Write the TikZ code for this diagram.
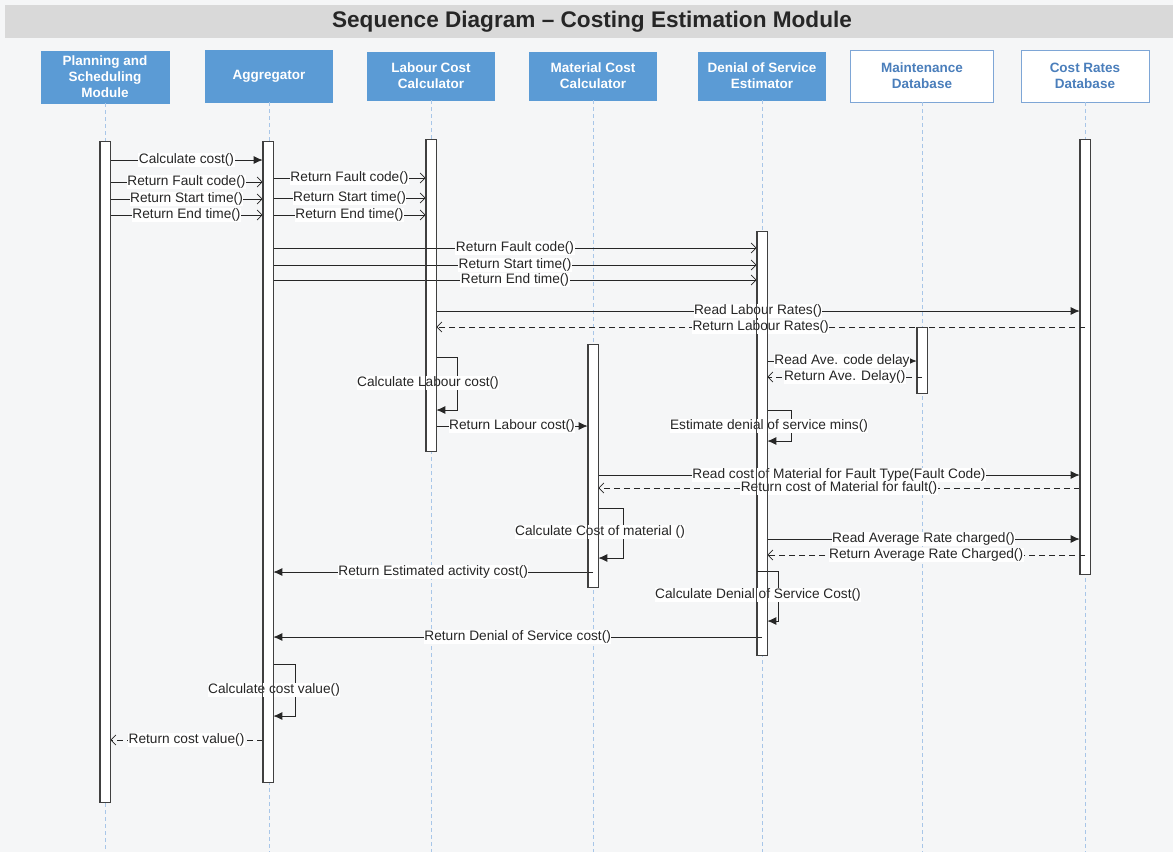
\documentclass[tikz,border=0pt]{standalone}
\usepackage{fontspec}
\setmainfont{Liberation Sans}
\usetikzlibrary{arrows.meta}
\definecolor{bgc}{HTML}{F5F6F7}
\definecolor{titlebar}{HTML}{D9D9D9}
\definecolor{hblue}{HTML}{5B9BD5}
\definecolor{hline}{HTML}{7EA6D6}
\definecolor{htext}{HTML}{4A7EBB}
\definecolor{lifec}{HTML}{A8C6E8}
\definecolor{ink}{HTML}{262626}
\definecolor{barline}{HTML}{404040}
\begin{document}
\begin{tikzpicture}[x=1pt,y=-1pt,
 every node/.style={font=\fontsize{13.7}{15}\selectfont, text=ink},
 head/.style={draw=hblue, fill=hblue, text=white, font=\bfseries\fontsize{13.5}{16}\selectfont, align=center, minimum height=52pt, inner sep=2pt},
 headw/.style={head, fill=white, draw=hline, text=htext},
 lifeline/.style={draw=lifec, dash pattern=on 4pt off 3pt, line width=0.8pt},
 actbar/.style={draw=barline, fill=white, minimum width=10pt, inner sep=0pt, anchor=north, line width=0.7pt},
 msg/.style={draw=ink, line width=0.8pt, -{Latex[length=9pt,width=8pt]}},
 ret/.style={draw=ink, line width=0.8pt, -{Straight Barb[length=5pt,width=10pt]}},
 dret/.style={ret, dash pattern=on 6pt off 4pt},
 lbl/.style={fill=white, inner sep=0.5pt}
]
\useasboundingbox (0,0) rectangle (1173,852);
\fill[bgc] (0,0) rectangle (1173,852);
\fill[titlebar] (5,5) rectangle (1173,38);
\node[font=\bfseries\fontsize{22.6}{26}\selectfont] (title) at (592,22) {Sequence Diagram – Costing Estimation Module};

% heads
\node[head, minimum width=128pt] (hP) at (105,77) {Planning and\\Scheduling\\Module};
\node[head, minimum width=127pt] (hA) at (269,76) {Aggregator};
\node[head, minimum width=127pt, minimum height=48pt] (hL) at (431,76) {Labour Cost\\Calculator};
\node[head, minimum width=127pt, minimum height=48pt] (hM) at (593,76) {Material Cost\\Calculator};
\node[head, minimum width=127pt, minimum height=48pt] (hD) at (762,76) {Denial of Service\\Estimator};
\node[headw, minimum width=143pt] (hT) at (922,76) {Maintenance\\Database};
\node[headw, minimum width=128pt] (hC) at (1085,76) {Cost Rates\\Database};

% lifelines
\foreach \h/\x in {hP/105,hA/269,hL/431,hM/593,hD/762,hT/922,hC/1085}{
  \coordinate (e\h) at (\x,852);
  \draw[lifeline] (\h.south) -- (e\h);
}

% activation bars
\node[actbar, minimum height=661pt] (bP) at (105,141) {};
\node[actbar, minimum height=641pt] (bA) at (268,141) {};
\node[actbar, minimum height=312pt] (bL) at (431,139) {};
\node[actbar, minimum height=243pt] (bM) at (593,344) {};
\node[actbar, minimum height=424pt] (bD) at (762,231) {};
\node[actbar, minimum height=66pt] (bT) at (922,327) {};
\node[actbar, minimum height=435pt] (bC) at (1085,139) {};

% Planning -> Aggregator
\draw[msg] (bP.east |- 0,160) -- node[lbl] (m1) {Calculate cost()} (bA.west |- 0,160);
\draw[ret] (bP.east |- 0,182) -- node[lbl] (m2) {Return Fault code()} (bA.west |- 0,182);
\draw[ret] (bP.east |- 0,199) -- node[lbl] (m3) {Return Start time()} (bA.west |- 0,199);
\draw[ret] (bP.east |- 0,215) -- node[lbl] (m4) {Return End time()} (bA.west |- 0,215);
% Aggregator -> Labour
\draw[ret] (bA.east |- 0,178) -- node[lbl] (m5) {Return Fault code()} (bL.west |- 0,178);
\draw[ret] (bA.east |- 0,198) -- node[lbl] (m6) {Return Start time()} (bL.west |- 0,198);
\draw[ret] (bA.east |- 0,215) -- node[lbl] (m7) {Return End time()} (bL.west |- 0,215);
% Aggregator -> DoS
\draw[ret] (bA.east |- 0,248) -- node[lbl] (m8) {Return Fault code()} (bD.west |- 0,248);
\draw[ret] (bA.east |- 0,265) -- node[lbl] (m9) {Return Start time()} (bD.west |- 0,265);
\draw[ret] (bA.east |- 0,280) -- node[lbl] (m10) {Return End time()} (bD.west |- 0,280);
% Labour <-> Cost Rates
\draw[msg] (bL.east |- 0,311) -- node[lbl] (m11) {Read Labour Rates()} (bC.west |- 0,311);
\draw[dret] (bC.center |- 0,327) -- node[lbl] (m12) {Return Labour Rates()} (bL.east |- 0,327);
% Labour self call
\draw[msg] (bL.east |- 0,357) -- ++(21,0) |- (bL.east |- 0,410);
\node[lbl] (m13) at (428,383) {Calculate Labour cost()};
\draw[msg] (bL.east |- 0,426) -- node[lbl] (m14) {Return Labour cost()} (bM.west |- 0,426);
% DoS <-> Maintenance
\draw[msg] (bD.east |- 0,361) -- node[lbl] (m15) {Read Ave. code delay} (bT.west |- 0,361);
\draw[dret] (bT.center |- 0,377) -- node[lbl] (m16) {Return Ave. Delay()} (bD.east |- 0,377);
% DoS self call
\draw[msg] (bD.east |- 0,410) -- ++(24,0) |- (bD.east |- 0,441);
\node[lbl] (m17) at (769,426) {Estimate denial of service mins()};
% Material <-> Cost Rates
\draw[msg] (bM.east |- 0,475) -- node[lbl] (m18) {Read cost of Material for Fault Type(Fault Code)} (bC.west |- 0,475);
\draw[dret] (bC.west |- 0,488) -- node[lbl] (m19) {Return cost of Material for fault()} (bM.east |- 0,488);
% Material self call
\draw[msg] (bM.east |- 0,508) -- ++(25,0) |- (bM.east |- 0,558);
\node[lbl] (m20) at (600,532) {Calculate Cost of material ()};
% DoS <-> Cost Rates
\draw[msg] (bD.east |- 0,539) -- node[lbl] (m21) {Read Average Rate charged()} (bC.west |- 0,539);
\draw[dret] (bC.center |- 0,555) -- node[lbl] (m22) {Return Average Rate Charged()} (bD.east |- 0,555);
% Material -> Aggregator
\draw[msg] (bM.center |- 0,572) -- node[lbl] (m23) {Return Estimated activity cost()} (bA.east |- 0,572);
% DoS self call 2
\draw[msg] (bD.west |- 0,571) -- ++(22,0) |- (bD.east |- 0,621);
\node[lbl] (m24) at (758,595) {Calculate Denial of Service Cost()};
% DoS -> Aggregator
\draw[msg] (bD.center |- 0,637) -- node[lbl] (m25) {Return Denial of Service cost()} (bA.east |- 0,637);
% Aggregator self call
\draw[msg] (bA.east |- 0,664) -- ++(22,0) |- (bA.east |- 0,716);
\node[lbl] (m26) at (274,690) {Calculate cost value()};
\draw[dret] (bA.west |- 0,740) -- node[lbl] (m27) {Return cost value()} (bP.east |- 0,740);

% bar outlines on top
\foreach \b in {bP,bA,bL,bM,bD,bT,bC}{
  \draw[barline, line width=0.7pt] (\b.north west) rectangle (\b.south east);
}
\end{tikzpicture}
\end{document}
